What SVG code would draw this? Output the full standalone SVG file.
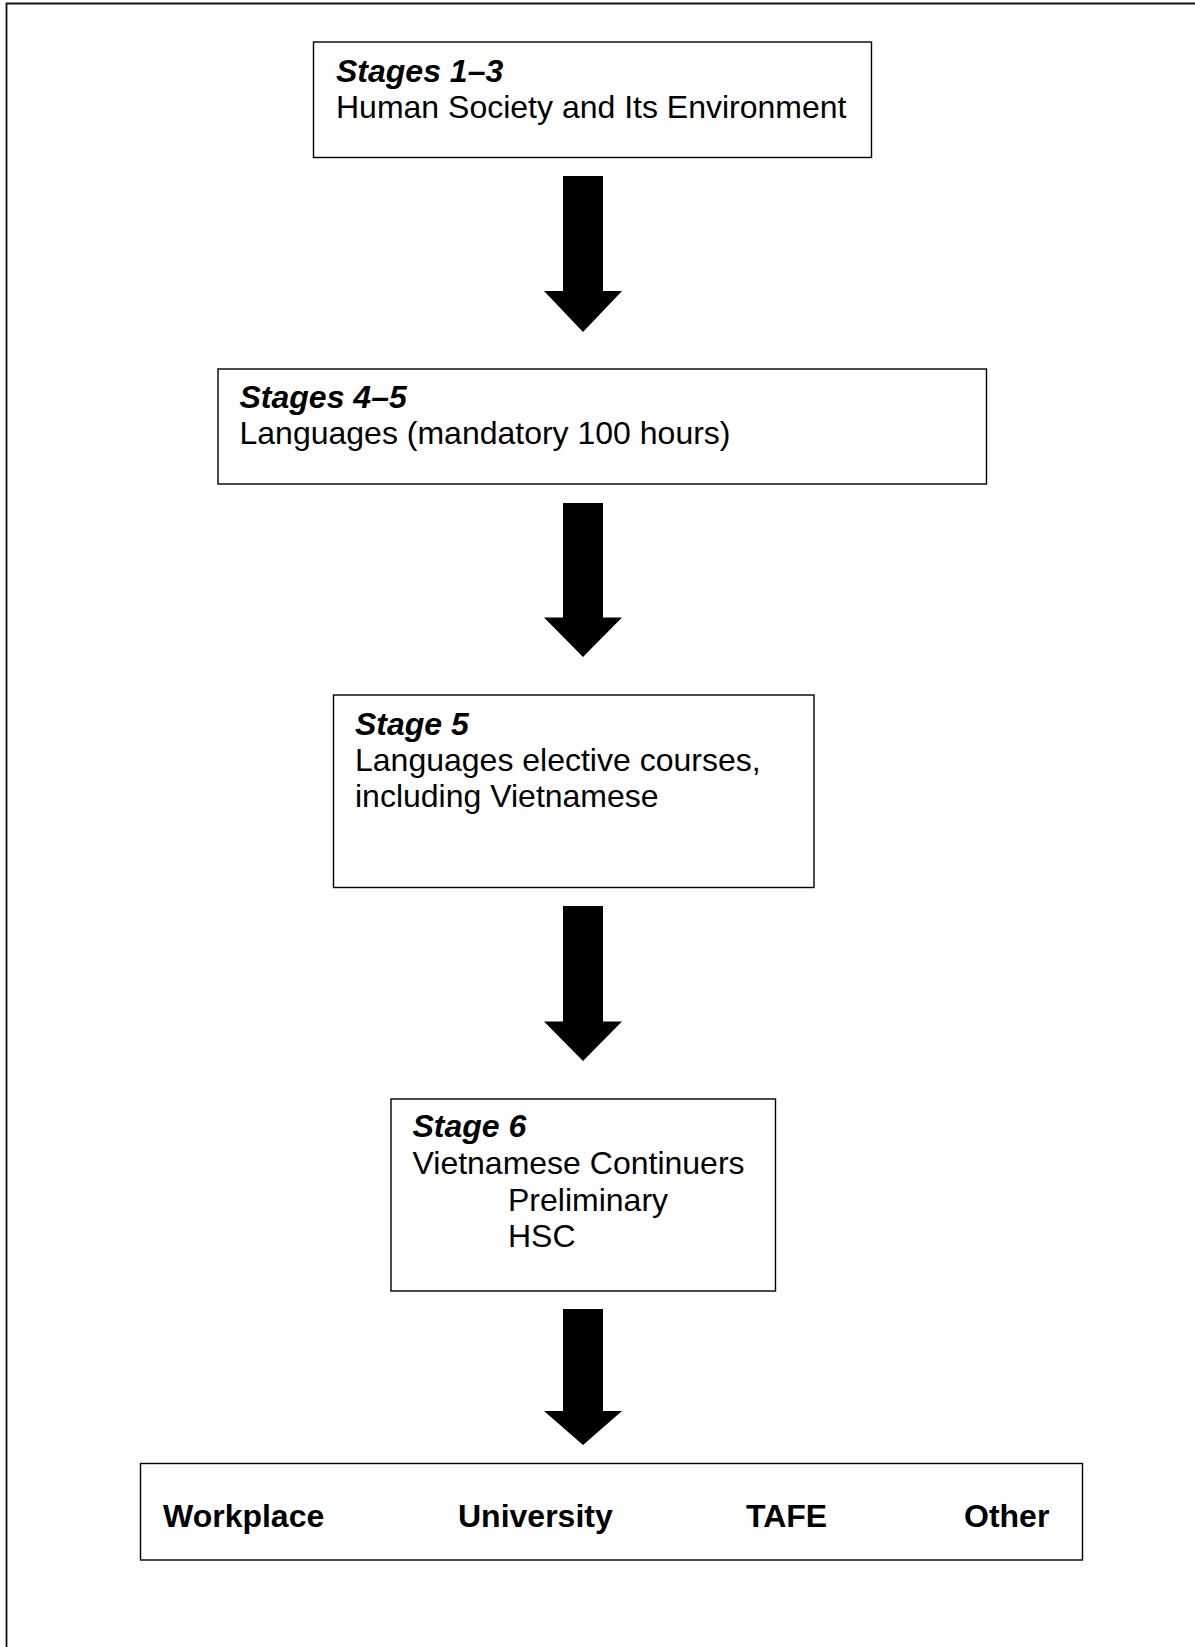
<svg xmlns="http://www.w3.org/2000/svg" width="1195" height="1647" viewBox="0 0 1195 1647">
<style>
.box{fill:#fff;stroke:#000;stroke-width:1.4}
.t{font-family:"Liberation Sans",Arial,sans-serif;font-size:32px;fill:#000}
.h{font-weight:bold;font-style:italic}
.b{font-weight:bold}
.arr{fill:#000}
</style>
<rect width="1195" height="1647" fill="#fff"/>
<path d="M6.5 1647 V3.5 H1195" fill="none" stroke="#111" stroke-width="1.8"/>
<g id="node-stages-1-3">
<rect class="box" x="313.5" y="42" width="558" height="115.5"/>
<text class="t h" x="336" y="82">Stages 1–3</text>
<text class="t" x="336" y="117.5">Human Society and Its Environment</text>
</g>
<g id="node-stages-4-5">
<rect class="box" x="218" y="369" width="768.5" height="115"/>
<text class="t h" x="239.5" y="408">Stages 4–5</text>
<text class="t" x="239.5" y="444">Languages (mandatory 100 hours)</text>
</g>
<g id="node-stage-5">
<rect class="box" x="333.5" y="695" width="480.5" height="192.5"/>
<text class="t h" x="355" y="735">Stage 5</text>
<text class="t" x="355" y="771">Languages elective courses,</text>
<text class="t" x="355" y="807">including Vietnamese</text>
</g>
<g id="node-stage-6">
<rect class="box" x="391" y="1099" width="384.5" height="192"/>
<text class="t h" x="412.5" y="1137">Stage 6</text>
<text class="t" x="412.5" y="1174">Vietnamese Continuers</text>
<text class="t" x="508" y="1211">Preliminary</text>
<text class="t" x="508" y="1247">HSC</text>
</g>
<g id="node-destinations">
<rect class="box" x="140.5" y="1463.5" width="942" height="96.5"/>
<text class="t b" x="163" y="1527">Workplace</text>
<text class="t b" x="458" y="1527">University</text>
<text class="t b" x="746" y="1527">TAFE</text>
<text class="t b" x="964" y="1527">Other</text>
</g>
<g id="connectors">
<polygon class="arr" points="563,176 603,176 603,291 622,291 583,332 544,291 563,291"/>
<polygon class="arr" points="563,503 603,503 603,617.5 622,617.5 583,657 544,617.5 563,617.5"/>
<polygon class="arr" points="563,906 603,906 603,1021.5 622,1021.5 583,1061 544,1021.5 563,1021.5"/>
<polygon class="arr" points="563,1309 603,1309 603,1411 622,1411 583,1445 544,1411 563,1411"/>
</g>
</svg>
